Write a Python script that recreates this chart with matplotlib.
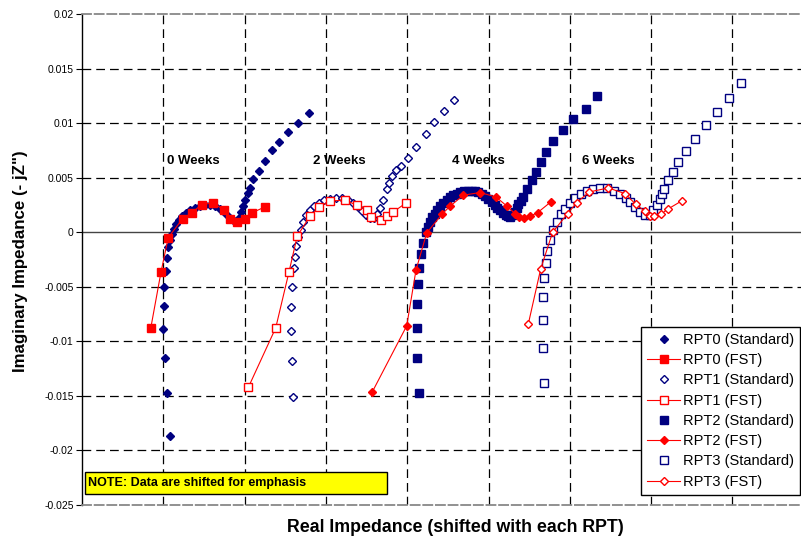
import matplotlib.pyplot as plt
from matplotlib.patches import Rectangle

plt.rcParams['font.family'] = ['Liberation Sans', 'DejaVu Sans']

# x values are in "shifted" units (one grid cell per unit), y in ohms
rpt0_std_x = [1.082, 1.046, 1.017, 1.000, 1.005, 1.012, 1.033, 1.046, 1.061, 1.082, 1.107, 1.132,
              1.156, 1.193, 1.230, 1.279, 1.328, 1.390, 1.451, 1.513, 1.574, 1.636, 1.697, 1.747,
              1.796, 1.833, 1.870, 1.907, 1.931, 1.956, 1.980, 2.005, 2.042, 2.066, 2.103, 2.177,
              2.251, 2.337, 2.423, 2.534, 2.657, 2.792]
rpt0_std_y = [-0.01868, -0.01474, -0.01154, -0.00888, -0.00678, -0.00504, -0.00357, -0.00238,
              -0.00137, -0.00073, -0.00018, 0.00027, 0.00073, 0.00110, 0.00147, 0.00174, 0.00201,
              0.00220, 0.00238, 0.00247, 0.00247, 0.00238, 0.00211, 0.00183, 0.00147, 0.00119,
              0.00101, 0.00101, 0.00128, 0.00183, 0.00238, 0.00293, 0.00357, 0.00403, 0.00485,
              0.00559, 0.00650, 0.00751, 0.00824, 0.00916, 0.00998, 0.01090]

rpt0_fst_x = [0.845, 0.972, 1.061, 1.239, 1.349, 1.472, 1.615, 1.750, 1.820, 1.903, 2.005, 2.087, 2.251]
rpt0_fst_y = [-0.00882, -0.00364, -0.00049, 0.00125, 0.00177, 0.00254, 0.00268, 0.00201, 0.00125,
              0.00094, 0.00125, 0.00177, 0.00232]

rpt1_std_x = [2.599, 2.579, 2.571, 2.571, 2.579, 2.608, 2.620, 2.632, 2.660, 2.690, 2.718, 2.755,
              2.804, 2.854, 2.915, 2.977, 3.050, 3.124, 3.198, 3.272, 3.333, 3.395, 3.444, 3.493,
              3.542, 3.592, 3.628, 3.665, 3.702, 3.748, 3.776, 3.813, 3.862, 3.924, 4.010, 4.108,
              4.231, 4.330, 4.453, 4.576]
rpt1_std_y = [-0.01508, -0.01181, -0.00907, -0.00684, -0.00501, -0.00332, -0.00226, -0.00125,
              -0.00043, 0.00018, 0.00092, 0.00156, 0.00201, 0.00238, 0.00266, 0.00293, 0.00302,
              0.00311, 0.00311, 0.00293, 0.00266, 0.00229, 0.00192, 0.00156, 0.00128, 0.00128,
              0.00165, 0.00220, 0.00293, 0.00400, 0.00449, 0.00513, 0.00568, 0.00604, 0.00678,
              0.00778, 0.00897, 0.01007, 0.01108, 0.01209]

rpt1_fst_x = [2.046, 2.383, 2.546, 2.648, 2.804, 2.919, 3.050, 3.235, 3.386, 3.509, 3.551, 3.674,
              3.748, 3.829, 3.985]
rpt1_fst_y = [-0.01422, -0.00876, -0.00364, -0.00034, 0.00147, 0.00232, 0.00287, 0.00293, 0.00247,
              0.00208, 0.00140, 0.00110, 0.00149, 0.00186, 0.00268]

rpt2_std_x = [4.149, 4.124, 4.117, 4.124, 4.137, 4.149, 4.170, 4.198, 4.231, 4.255, 4.280, 4.310,
              4.342, 4.372, 4.403, 4.445, 4.486, 4.527, 4.567, 4.608, 4.649, 4.700, 4.752, 4.793,
              4.834, 4.875, 4.916, 4.957, 4.998, 5.040, 5.080, 5.110, 5.142, 5.180, 5.215, 5.240,
              5.264, 5.295, 5.326, 5.345, 5.367, 5.400, 5.428, 5.470, 5.531, 5.580, 5.642, 5.707,
              5.797, 5.920, 6.043, 6.196, 6.338]
rpt2_std_y = [-0.01477, -0.01157, -0.00882, -0.00662, -0.00476, -0.00327, -0.00201, -0.00103,
              0.00003, 0.00050, 0.00094, 0.00135, 0.00171, 0.00205, 0.00238, 0.00270, 0.00299,
              0.00320, 0.00339, 0.00354, 0.00366, 0.00374, 0.00378, 0.00378, 0.00375, 0.00366,
              0.00354, 0.00334, 0.00309, 0.00280, 0.00247, 0.00224, 0.00201, 0.00176, 0.00156,
              0.00145, 0.00140, 0.00158, 0.00186, 0.00220, 0.00263, 0.00290, 0.00323, 0.00400,
              0.00476, 0.00552, 0.00644, 0.00735, 0.00833, 0.00934, 0.01035, 0.01133, 0.01248]

rpt2_fst_x = [3.571, 3.994, 4.108, 4.240, 4.428, 4.526, 4.690, 4.895, 5.092, 5.224, 5.326, 5.379,
              5.440, 5.510, 5.605, 5.765]
rpt2_fst_y = [-0.01463, -0.00858, -0.00348, -0.00006, 0.00165, 0.00238, 0.00339, 0.00364, 0.00323,
              0.00241, 0.00171, 0.00140, 0.00131, 0.00147, 0.00180, 0.00277]

rpt3_std_x = [5.686, 5.674, 5.667, 5.667, 5.683, 5.704, 5.723, 5.756, 5.789, 5.838, 5.892, 5.941,
              6.002, 6.064, 6.138, 6.208, 6.289, 6.371, 6.461, 6.544, 6.617, 6.691, 6.740, 6.802,
              6.863, 6.925, 6.986, 7.027, 7.076, 7.109, 7.130, 7.159, 7.212, 7.266, 7.335, 7.426,
              7.540, 7.672, 7.807, 7.962, 8.106]
rpt3_std_y = [-0.01380, -0.01065, -0.00806, -0.00593, -0.00424, -0.00281, -0.00171, -0.00067,
              0.00018, 0.00094, 0.00165, 0.00217, 0.00268, 0.00318, 0.00354, 0.00375, 0.00400,
              0.00406, 0.00406, 0.00375, 0.00348, 0.00318, 0.00277, 0.00232, 0.00186, 0.00156,
              0.00156, 0.00201, 0.00247, 0.00309, 0.00354, 0.00400, 0.00476, 0.00552, 0.00644,
              0.00745, 0.00858, 0.00980, 0.01102, 0.01234, 0.01367]

rpt3_fst_x = [5.490, 5.642, 5.789, 5.974, 6.085, 6.240, 6.474, 6.679, 6.811, 6.925, 6.986, 7.039,
              7.122, 7.204, 7.376]
rpt3_fst_y = [-0.00840, -0.00336, 0.00000, 0.00171, 0.00272, 0.00369, 0.00406, 0.00354, 0.00256,
              0.00192, 0.00149, 0.00149, 0.00165, 0.00211, 0.00287]

week_labels = ['0 Weeks', '2 Weeks', '4 Weeks', '6 Weeks']
week_x = [1.365, 3.161, 4.871, 6.470]
week_y = 0.0065

y_ticks = [-0.025, -0.02, -0.015, -0.01, -0.005, 0, 0.005, 0.01, 0.015, 0.02]
y_ticklabels = ['-0.025', '-0.02', '-0.015', '-0.01', '-0.005', '0', '0.005', '0.01', '0.015', '0.02']

navy = '#000080'
red = '#ff0000'

fig = plt.figure(figsize=(8.01, 5.37), dpi=100)
ax = fig.add_axes([82 / 801, 32 / 537, 731.7 / 801, 491 / 537])

# grid (drawn by hand so the edge lines can be grey)
for v in range(1, 9):
    ax.axvline(v, color='black', lw=0.9, ls=(0, (7, 4)), zorder=0)
for v in y_ticks[1:-1]:
    if v != 0:
        ax.axhline(v, color='black', lw=0.9, ls=(0, (7, 4)), zorder=0)
ax.axhline(0, color='#444444', lw=1.0, zorder=0.5)

ax.plot(rpt0_std_x, rpt0_std_y, ls='none', marker='D', ms=4.1, color=navy, label='RPT0 (Standard)')
ax.plot(rpt0_fst_x, rpt0_fst_y, '-', lw=0.8, marker='s', ms=6.3, color=red, label='RPT0 (FST)')
ax.plot(rpt1_std_x, rpt1_std_y, ls='none', marker='D', ms=3.7, mfc='white', mec=navy, mew=1,
        label='RPT1 (Standard)')
ax.plot(rpt1_fst_x, rpt1_fst_y, '-', lw=0.8, marker='s', ms=5.6, color=red, mfc='white', mew=1,
        label='RPT1 (FST)')
ax.plot(rpt2_std_x, rpt2_std_y, ls='none', marker='s', ms=5.5, color=navy, label='RPT2 (Standard)')
ax.plot(rpt2_fst_x, rpt2_fst_y, '-', lw=0.8, marker='D', ms=3.9, color=red, label='RPT2 (FST)')
ax.plot(rpt3_std_x, rpt3_std_y, ls='none', marker='s', ms=5.6, mfc='white', mec=navy, mew=1,
        label='RPT3 (Standard)')
ax.plot(rpt3_fst_x, rpt3_fst_y, '-', lw=0.8, marker='D', ms=3.8, color=red, mfc='white', mew=1,
        label='RPT3 (FST)')

for lab, wx in zip(week_labels, week_x):
    ax.text(wx, week_y, lab, ha='center', va='center', fontsize=9.5, fontweight='bold')

ax.set_xlim(0, 9)
ax.set_ylim(-0.025, 0.02)
ax.set_xticks([])
ax.set_yticks(y_ticks)
ax.set_yticklabels(y_ticklabels, fontsize=7.5)
ax.tick_params(axis='y', direction='out', length=4, width=0.8, pad=2)

ax.spines['right'].set_visible(False)
ax.spines['left'].set_linewidth(1.0)
for s in ['top', 'bottom']:
    ax.spines[s].set_color('#888888')
    ax.spines[s].set_linestyle((0, (5, 2)))
    ax.spines[s].set_linewidth(1.3)

ax.set_ylabel('Imaginary Impedance (- jZ")', fontsize=12.2, fontweight='bold')
ax.yaxis.set_label_coords(-0.0738, 0.497)
fig.text(455 / 801, 1 - 528 / 537, 'Real Impedance (shifted with each RPT)', ha='center', va='center',
         fontsize=12.8, fontweight='bold')

leg = ax.legend(loc='upper left', bbox_to_anchor=((641 - 82) / 731.7, (505 - 327) / 491),
                borderaxespad=0, fontsize=10.5, frameon=True, fancybox=False, edgecolor='black',
                framealpha=1, labelspacing=0.43, handlelength=2.3, handletextpad=0.2, borderpad=0.4)
leg.get_frame().set_linewidth(1.0)

# note box
fig.patches.append(Rectangle((85 / 801, 1 - 494 / 537), 302 / 801, 22 / 537, transform=fig.transFigure,
                             facecolor='#ffff00', edgecolor='black', lw=1.0, zorder=5))
fig.text(88 / 801, 1 - 483 / 537, 'NOTE: Data are shifted for emphasis', ha='left', va='center',
         fontsize=9, fontweight='bold', zorder=6)

fig.savefig('out.png', dpi=100)
